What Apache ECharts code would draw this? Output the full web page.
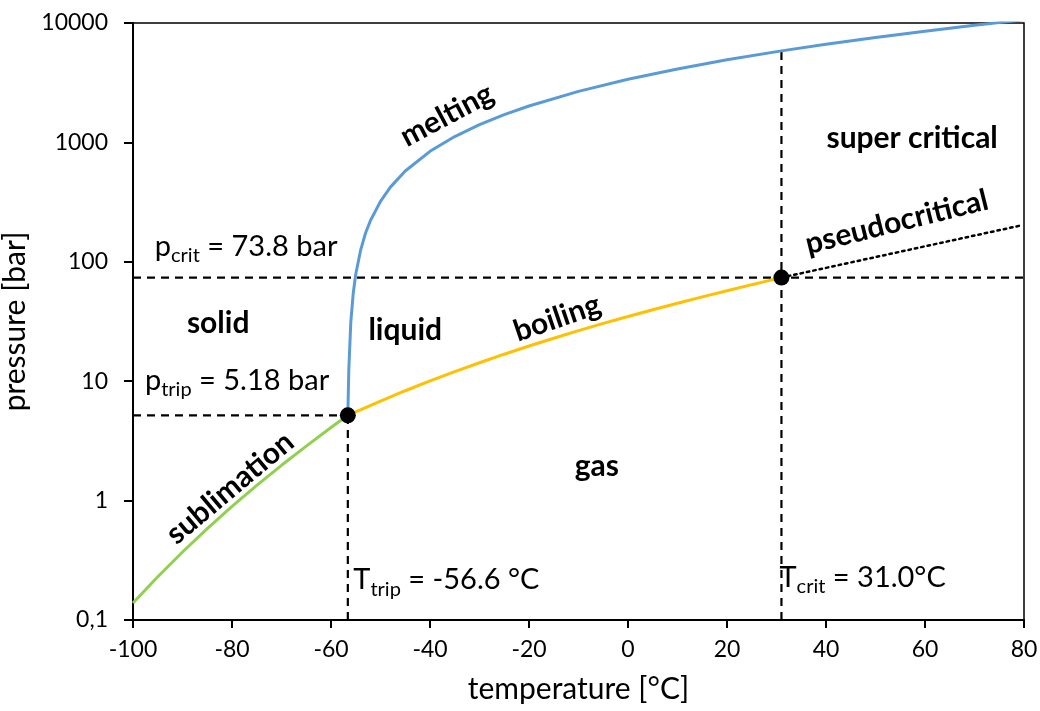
<!DOCTYPE html>
<html>
<head>
<meta charset="utf-8">
<script src="https://cdn.jsdelivr.net/npm/echarts@6/dist/echarts.min.js"></script>
<style>html,body{margin:0;padding:0;background:#fff;}#c{width:1040px;height:711px;}</style>
</head>
<body>
<div id="c"></div>
<script>
// ---- data (temperature in °C, pressure in bar) ----
var meltT = [-56.6, -56.4, -56, -55.5, -55, -54, -53, -52, -50, -48, -45, -40, -35, -30, -25, -20, -10, 0, 10, 20, 31, 40, 50, 60, 70, 80];
var meltP = [5.18, 12.6, 31.3, 54.9, 78.6, 126, 175, 223, 321, 422, 576, 842, 1119, 1407, 1707, 2018, 2675, 3376, 4123, 4916, 5840, 6637, 7566, 8539, 9559, 10620];

var boilT = [-56.6, -55, -50, -45, -40, -35, -30, -25, -20, -15, -10, -5, 0, 5, 10, 15, 20, 25, 28, 31];
var boilP = [5.18, 5.54, 6.82, 8.32, 10.05, 12.02, 14.28, 16.83, 19.70, 22.91, 26.49, 30.47, 34.85, 39.69, 45.02, 50.87, 57.29, 64.34, 68.9, 73.8];

var sublT = [-100, -95, -90, -85, -80, -75, -70, -65, -60, -56.6];
var sublP = [0.139, 0.230, 0.371, 0.582, 0.893, 1.34, 1.975, 2.86, 4.09, 5.18];

var pseudoT = [31, 79];
var pseudoP = [73.8, 200];

var tripleT = -56.6, tripleP = 5.18;
var critT = 31.0, critP = 73.8;

var xTicks = [-100, -80, -60, -40, -20, 0, 20, 40, 60, 80];
var yTicks = [0.1, 1, 10, 100, 1000, 10000];
var yTickLabels = ['0,1', '1', '10', '100', '1000', '10000'];

var annoText = [
  'melting', 'super critical', 'pseudocritical', 'solid', 'liquid', 'boiling', 'sublimation', 'gas',
  '{m|p}{s|crit}{m| = 73.8 bar}', '{m|p}{s|trip}{m| = 5.18 bar}',
  '{m|T}{s|trip}{m| = -56.6 °C}', '{m|T}{s|crit}{m| = 31.0°C}'
];
var annoT = [-36.6, 57.4, 54.3, -82.8, -45.0, -14.3, -80.4, -6.3, -95.6, -97.6, -55.5, 30.6];
var annoP = [1695, 1089, 215, 30.7, 26.8, 33.8, 1.275, 1.95, 133, 10.04, 0.216, 0.225];

// ---- build ----
function zip(a, b) { return a.map(function (v, i) { return [v, b[i]]; }); }
var FONT = 'Lato';
var TXT = '#000';
var annoRot = [28, 0, 14, 0, 0, 19, 40, 0, 0, 0, 0, 0];
var annoAlign = ['center','center','center','center','center','center','center','center','left','left','left','left'];

var annoData = annoText.map(function (t, i) {
  var plain = annoAlign[i] === 'center';
  return {
    value: [annoT[i], annoP[i]],
    label: {
      show: true,
      position: 'inside',
      formatter: t,
      rotate: annoRot[i],
      align: annoAlign[i],
      verticalAlign: 'middle',
      fontFamily: FONT,
      fontWeight: plain ? 'bold' : 'normal',
      fontSize: 30,
      color: '#000',
      opacity: 1,
      textBorderWidth: 0,
      rich: {
        m: { fontFamily: FONT, fontSize: 29, color: '#000', lineHeight: 38, textBorderWidth: 0 },
        s: { fontFamily: FONT, fontSize: 20, color: '#000', lineHeight: 20, verticalAlign: 'bottom', textBorderWidth: 0 }
      }
    }
  };
});

var dash = { color: '#000', width: 2.2, type: [8, 6] };

var chart = echarts.init(document.getElementById('c'), null, { renderer: 'canvas' });
chart.setOption({
  animation: false,
  backgroundColor: '#fff',
  grid: { left: 133, right: 16, top: 23, bottom: 91, outerBoundsMode: 'none', containLabel: false,
    show: true, borderColor: '#000', borderWidth: 1.5, backgroundColor: 'transparent' },
  xAxis: {
    type: 'value', min: -100, max: 80, interval: 20,
    name: 'temperature [°C]', nameLocation: 'middle', nameGap: 54,
    nameTextStyle: { fontFamily: FONT, fontSize: 30, color: TXT },
    axisLine: { show: true, onZero: false, lineStyle: { color: '#000', width: 2 } },
    axisTick: { show: true, inside: false, length: 8, lineStyle: { color: '#000', width: 2 } },
    axisLabel: { margin: 18, fontFamily: FONT, fontSize: 23, color: TXT,
      formatter: function (v) { return String(v); } },
    splitLine: { show: false }
  },
  yAxis: {
    type: 'log', logBase: 10, min: 0.1, max: 10000,
    name: 'pressure [bar]', nameLocation: 'middle', nameGap: 90,
    nameTextStyle: { fontFamily: FONT, fontSize: 30, color: TXT },
    axisLine: { show: true, onZero: false, lineStyle: { color: '#000', width: 2 } },
    axisTick: { show: true, inside: false, length: 9, lineStyle: { color: '#000', width: 2 } },
    axisLabel: { margin: 25, fontFamily: FONT, fontSize: 23, color: TXT,
      formatter: function (v) {
        for (var i = 0; i < yTicks.length; i++) {
          if (Math.abs(Math.log10(v) - Math.log10(yTicks[i])) < 1e-6) return yTickLabels[i];
        }
        return '';
      } },
    splitLine: { show: false }
  },
  series: [
    { type: 'line', data: [[critT, 0.1], [critT, meltP[meltT.indexOf(31)]]], symbol: 'none', lineStyle: dash, z: 1, silent: true },
    { type: 'line', data: [[-100, critP], [80, critP]], symbol: 'none', lineStyle: dash, z: 1, silent: true },
    { type: 'line', data: [[tripleT, 0.1], [tripleT, tripleP]], symbol: 'none', lineStyle: dash, z: 1, silent: true },
    { type: 'line', data: [[-100, tripleP], [tripleT, tripleP]], symbol: 'none', lineStyle: dash, z: 1, silent: true },
    { type: 'line', data: zip(pseudoT, pseudoP), symbol: 'none', lineStyle: { color: '#000', width: 2.5, type: [2.5, 4], cap: 'round' }, z: 2 },
    { type: 'line', data: zip(meltT, meltP), symbol: 'none', lineStyle: { color: '#5B9BD5', width: 3 }, z: 3 },
    { type: 'line', data: zip(boilT, boilP), symbol: 'none', lineStyle: { color: '#FFC000', width: 3 }, z: 3 },
    { type: 'line', data: zip(sublT, sublP), symbol: 'none', lineStyle: { color: '#92D050', width: 3 }, z: 3 },
    { type: 'scatter', data: [[tripleT, tripleP], [critT, critP]], symbol: 'circle', symbolSize: 16, itemStyle: { color: '#000', opacity: 1 }, z: 5 },
    { type: 'scatter', data: annoData, symbol: 'circle', symbolSize: 0.1, itemStyle: { color: '#fff', opacity: 1 }, z: 6, silent: true }
  ]
});
</script>
</body>
</html>
